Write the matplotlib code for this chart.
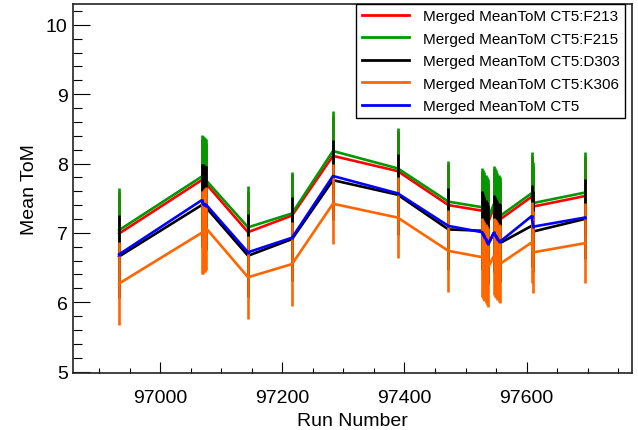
import matplotlib
matplotlib.use("Agg")
import matplotlib.pyplot as plt
from matplotlib.ticker import MultipleLocator
from matplotlib.lines import Line2D

plt.rcParams['font.family'] = ['Liberation Sans', 'DejaVu Sans']

# run numbers (clusters of nearby runs)
runs = [96933,
        97068, 97070, 97072, 97074, 97076,
        97144, 97216, 97283, 97389, 97472,
        97527, 97529, 97531, 97533, 97535, 97537,
        97546, 97548, 97550, 97552, 97554, 97556,
        97608, 97611,
        97695]

tom_f213 = [6.99, 7.76, 7.74, 7.73, 7.72, 7.70, 7.01, 7.25, 8.11, 7.89, 7.40,
            7.32, 7.29, 7.26, 7.22, 7.18, 7.15, 7.36, 7.33, 7.30, 7.26, 7.22, 7.19,
            7.52, 7.38, 7.53]
tom_f215 = [7.04, 7.81, 7.79, 7.78, 7.77, 7.75, 7.08, 7.28, 8.18, 7.93, 7.45,
            7.37, 7.34, 7.31, 7.27, 7.23, 7.20, 7.41, 7.38, 7.35, 7.31, 7.27, 7.24,
            7.57, 7.43, 7.58]
tom_d303 = [6.66, 7.40, 7.39, 7.38, 7.37, 7.36, 6.67, 6.91, 7.76, 7.55, 7.05,
            7.03, 6.99, 6.95, 6.91, 6.87, 6.83, 6.99, 6.96, 6.93, 6.90, 6.87, 6.85,
            7.10, 7.02, 7.20]
tom_k306 = [6.27, 7.00, 7.01, 7.03, 7.04, 7.06, 6.36, 6.55, 7.42, 7.22, 6.74,
            6.65, 6.62, 6.59, 6.56, 6.53, 6.50, 6.66, 6.64, 6.62, 6.59, 6.57, 6.55,
            6.86, 6.72, 6.85]
tom_ct5 = [6.69, 7.47, 7.42, 7.41, 7.41, 7.40, 6.72, 6.93, 7.82, 7.57, 7.10,
           7.01, 6.98, 6.95, 6.91, 6.87, 6.84, 7.00, 6.97, 6.95, 6.92, 6.89, 6.87,
           7.24, 7.09, 7.22]

# error on the mean ToM per run (same spread for the four counters)
tom_err = [0.60, 0.60, 0.60, 0.60, 0.60, 0.60, 0.60, 0.60, 0.58, 0.58, 0.59,
           0.57, 0.57, 0.57, 0.57, 0.57, 0.57, 0.56, 0.56, 0.56, 0.56, 0.56, 0.56,
           0.59, 0.59, 0.58]
ct5_err = [0.02] * len(runs)

series = [
    ("Merged MeanToM CT5:F213", tom_f213, tom_err, "#ff0000"),
    ("Merged MeanToM CT5:F215", tom_f215, tom_err, "#009900"),
    ("Merged MeanToM CT5:D303", tom_d303, tom_err, "#000000"),
    ("Merged MeanToM CT5:K306", tom_k306, tom_err, "#ff6600"),
    ("Merged MeanToM CT5", tom_ct5, ct5_err, "#0000ff"),
]

W, H = 638, 431
fig = plt.figure(figsize=(W / 100, H / 100), dpi=100)
ax = fig.add_axes([73.3 / W, 1 - 374.3 / H, (631.7 - 73.3) / W, (374.3 - 5) / H])

handles = []
for i, (name, vals, err, col) in enumerate(series):
    ax.errorbar(runs, vals, yerr=err, color=col, lw=1.9, elinewidth=1.9,
                capsize=0, zorder=2 + i)
    handles.append(Line2D([], [], color=col, lw=2, label=name))

ax.set_xlim(96858, 97772)
ax.set_ylim(4.975, 10.3)

ax.xaxis.set_major_locator(MultipleLocator(200))
ax.xaxis.set_minor_locator(MultipleLocator(50))
ax.yaxis.set_major_locator(MultipleLocator(1))
ax.yaxis.set_minor_locator(MultipleLocator(0.2))

ax.tick_params(axis='both', which='both', direction='in', top=False, right=False,
               labelsize=14, width=0.8, color='black')
ax.tick_params(axis='x', which='major', length=8, pad=11)
ax.tick_params(axis='x', which='minor', length=3.8)
ax.tick_params(axis='y', which='major', length=12.2, pad=4)
ax.tick_params(axis='y', which='minor', length=6.3)

for sp in ax.spines.values():
    sp.set_linewidth(1.2)
    sp.set_color('#222222')

ax.set_xlabel("Run Number", fontsize=14)
ax.set_ylabel("Mean ToM", fontsize=14)
ax.xaxis.set_label_coords(0.5, -0.104)
ax.yaxis.set_label_coords(-0.063, 0.5)

leg = fig.legend(handles=handles, loc='upper right',
                 bbox_to_anchor=(625 / W, 1 - 5 / H),
                 fontsize=11, frameon=True, fancybox=False, framealpha=1,
                 edgecolor='black', handlelength=3.1, handletextpad=0.9,
                 labelspacing=0.55, borderpad=0.35, borderaxespad=0)
leg.get_frame().set_linewidth(1.0)

fig.savefig("out.png", dpi=100)
